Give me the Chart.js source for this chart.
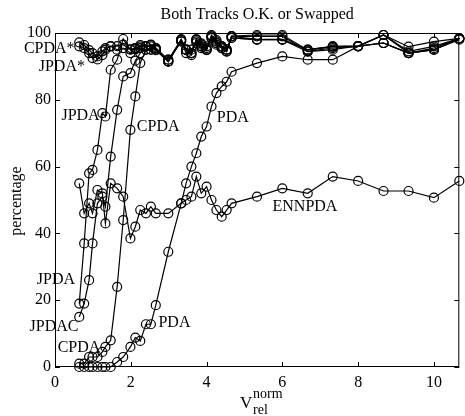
<!DOCTYPE html>
<html>
<head>
<meta charset="utf-8">
<script src="https://cdn.jsdelivr.net/npm/chart.js@4/dist/chart.umd.min.js"></script>
<style>
  body { margin: 0; background: #fff; }
</style>
</head>
<body>
<canvas id="tracks" width="465" height="416"></canvas>
<script>
// normalised relative velocity (x) and percentage of runs (y)
var velocity = [0.64, 0.77, 0.9, 0.99, 1.12, 1.25, 1.33, 1.47, 1.64, 1.8, 1.99, 2.12, 2.25, 2.4, 2.53, 2.66,
    2.99, 3.33, 3.46, 3.6, 3.73, 3.86, 4.0, 4.13, 4.26, 4.4, 4.53, 4.66,
    5.33, 6.0, 6.67, 7.33, 8.0, 8.67, 9.33, 10.0, 10.67];

var cpdaStar = [97.2, 96.4, 94.9, 94, 92.1, 93.4, 95, 96.1, 96.1, 96.5, 95.1, 95.1, 96.4, 96.1, 96.4, 94.9,
    91.4, 98.1, 94.9, 93.4, 98.1, 96.9, 94.9, 99.4, 97.9, 96, 94.4, 99.1,
    99.4, 99.4, 94.9, 95.9, 96.1, 99.4, 95.9, 97.4, 98.4];
var jpdaStar = [96, 95.5, 94, 92.5, 93, 94.5, 95.5, 96, 95, 95.5, 94, 95.5, 95.5, 95, 95, 95.5,
    92, 97.5, 94, 95, 97, 95.5, 96, 98.5, 96.5, 95.5, 95, 98.5,
    98, 98, 94.4, 95, 96.1, 97, 94, 95, 98.4];
var jpda = [19, 37, 58, 59, 65, 76, 75, 89, 92, 98.2, 95, 95.5, 96, 96, 96.5, 95,
    92, 98, 95, 94, 98, 96, 95, 99, 97, 96, 95, 99,
    98.1, 98.1, 95, 96, 96.1, 99.4, 94.5, 96, 98.4];
var jpdac = [15, 19, 26, 37, 49, 51, 48, 63, 77, 87, 88, 91.7, 94, 96, 96, 95,
    91.5, 97.5, 95, 94, 97.5, 96.5, 95.5, 98.5, 97, 96, 95, 98.5,
    98, 98, 95, 95.9, 96.1, 97, 94, 95, 98.4];
var cpda = [1, 1, 3, 3, 3, 4.5, 6, 8, 24, 44, 71, 81, 91, 95, 95, 95.5,
    91.5, 98, 95, 94, 98, 96, 95, 99, 97.5, 95.5, 94.5, 99,
    99, 99, 94.5, 95.5, 96, 99.4, 94, 95.5, 98.4];
var pda = [0, 0, 0, 0, 0, 0, 0, 0, 1.5, 3, 6, 8.8, 7.8, 12.8, 12.8, 18.5,
    34.5, 49, 55, 60, 64, 69, 72, 78, 82, 84, 85.4, 88.4,
    91, 93, 92, 92, 96, 97, 94, 95, 98];
var ennpda = [55, 46, 49, 46, 53, 52, 43, 55, 53.5, 51, 38.5, 42, 47, 46, 48, 46,
    46, 49, 50, 51, 57, 52, 54, 50, 47, 45, 47, 49,
    51, 53.5, 52, 57, 55.7, 52.7, 52.7, 50.7, 55.7];

var xTicks = [0, 2, 4, 6, 8, 10];
var yTicks = [0, 20, 40, 60, 80, 100];

// curve names written inside the plot (data coordinates)
var curveNames = ['CPDA*', 'JPDA*', 'JPDA', 'CPDA', 'PDA', 'ENNPDA', 'JPDA', 'JPDAC', 'CPDA', 'PDA'];
var curveNameX = [-0.82, -0.43, 0.17, 2.16, 4.27, 5.74, -0.48, -0.67, 0.07, 2.73];
var curveNameY = [95.2, 89.8, 75.1, 71.8, 74.5, 47.9, 26, 11.9, 5.6, 13.1];

var serif = "'Liberation Serif', 'Times New Roman', serif";

function series(values) {
    return {
        data: velocity.map(function (v, i) { return {x: v, y: values[i]}; }),
        borderColor: '#000',
        borderWidth: 1.2,
        pointRadius: 4.5,
        pointBorderWidth: 1.2,
        pointBorderColor: '#000',
        pointBackgroundColor: 'rgba(0,0,0,0)',
        tension: 0,
        clip: false
    };
}

var decor = {
    id: 'decor',
    afterDraw: function (chart) {
        var ctx = chart.ctx, a = chart.chartArea;
        var xs = chart.scales.x, ys = chart.scales.y;
        ctx.save();
        ctx.strokeStyle = '#000';
        ctx.lineWidth = 1;
        ctx.strokeRect(a.left + 0.5, a.top + 0.5, a.right - a.left - 1, a.bottom - a.top - 1);

        // inward tick marks on all four sides
        ctx.beginPath();
        xTicks.forEach(function (v) {
            var p = Math.round(xs.getPixelForValue(v)) + 0.5;
            ctx.moveTo(p, a.bottom); ctx.lineTo(p, a.bottom - 5);
            ctx.moveTo(p, a.top); ctx.lineTo(p, a.top + 5);
        });
        yTicks.forEach(function (v) {
            var p = Math.round(ys.getPixelForValue(v)) + 0.5;
            ctx.moveTo(a.left, p); ctx.lineTo(a.left + 5, p);
            ctx.moveTo(a.right, p); ctx.lineTo(a.right - 5, p);
        });
        ctx.stroke();

        ctx.fillStyle = '#000';

        // title
        ctx.font = '16px ' + serif;
        ctx.textAlign = 'center';
        ctx.textBaseline = 'alphabetic';
        ctx.fillText('Both Tracks O.K. or Swapped', (a.left + a.right) / 2, 19);

        // y axis title
        ctx.save();
        ctx.translate(17, 201);
        ctx.rotate(-Math.PI / 2);
        ctx.font = '16px ' + serif;
        ctx.textBaseline = 'middle';
        ctx.fillText('percentage', 0, 0);
        ctx.restore();

        // x axis title V_rel^norm
        ctx.textAlign = 'left';
        ctx.font = '17px ' + serif;
        ctx.fillText('V', 240, 408);
        ctx.font = '14px ' + serif;
        ctx.fillText('norm', 253, 398);
        ctx.fillText('rel', 253, 414);

        // curve names
        ctx.font = '16px ' + serif;
        ctx.textBaseline = 'middle';
        curveNames.forEach(function (name, i) {
            ctx.fillText(name, xs.getPixelForValue(curveNameX[i]), ys.getPixelForValue(curveNameY[i]));
        });
        ctx.restore();
    }
};

Chart.defaults.font.family = serif;
Chart.defaults.font.size = 16;
Chart.defaults.color = '#000';

var chart = new Chart(document.getElementById('tracks'), {
    type: 'line',
    data: {
        datasets: [series(cpdaStar), series(jpdaStar), series(jpda), series(jpdac),
            series(cpda), series(pda), series(ennpda)]
    },
    options: {
        responsive: false,
        animation: false,
        devicePixelRatio: 1,
        layout: {padding: {top: 33, right: 2, left: 0, bottom: 0}},
        plugins: {
            legend: {display: false},
            title: {display: false},
            tooltip: {enabled: false}
        },
        scales: {
            x: {
                type: 'linear',
                min: 0,
                max: 10.67,
                grid: {display: false, drawTicks: false},
                border: {display: false},
                ticks: {padding: 6, maxRotation: 0},
                afterBuildTicks: function (s) { s.ticks = xTicks.map(function (v) { return {value: v}; }); },
                afterFit: function (s) { s.height = 49; }
            },
            y: {
                min: 0,
                max: 100,
                grid: {display: false, drawTicks: false},
                border: {display: false},
                ticks: {padding: 4},
                afterBuildTicks: function (s) { s.ticks = yTicks.map(function (v) { return {value: v}; }); },
                afterFit: function (s) { s.width = 55; }
            }
        }
    },
    plugins: [decor]
});
</script>
</body>
</html>
